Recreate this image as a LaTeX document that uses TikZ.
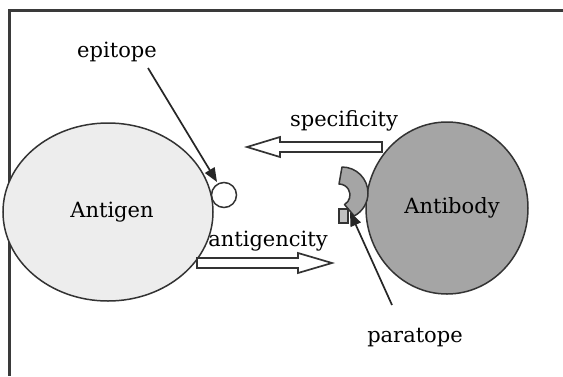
\documentclass[tikz,border=0pt]{standalone}
\usepackage{fontspec}
\setmainfont{DejaVu Serif}
\usetikzlibrary{shapes.geometric,arrows.meta,calc}
\definecolor{antigenfill}{HTML}{EDEDED}
\definecolor{antibodyfill}{HTML}{A5A5A5}
\definecolor{framegray}{HTML}{3A3A3A}
\begin{document}
\begin{tikzpicture}[x=1pt,y=-1pt,
  lbl/.style={font=\fontsize{21}{24}\selectfont, inner sep=0pt},
  body/.style={ellipse, draw=black!80, line width=1.5pt, inner sep=0pt,
               font=\fontsize{21}{24}\selectfont},
  pointer/.style={draw=black!85, line width=1.7pt,
                  -{Triangle[length=14pt,width=11pt]}},
  hollow/.style={draw=black!80, line width=1.7pt, fill=white, line join=miter}]
\useasboundingbox (0,0) rectangle (563,376);
\fill[white] (0,0) rectangle (563,376);

% frame (top and left edges only)
\draw[line width=3pt, framegray] (563,10) -- (9,10) -- (9,376);

% the two bodies
\node[body, fill=antigenfill, minimum width=210pt, minimum height=178pt]
  (antigen) at (108,212) {\hspace*{8pt}Antigen};
\node[body, fill=antibodyfill, minimum width=162pt, minimum height=172pt]
  (antibody) at (447,208) {\hspace*{10pt}Antibody};

% epitope: small bump on the antigen
\node[circle, draw=black!80, line width=1.5pt, fill=white, minimum size=25pt,
      inner sep=0pt] (epitope) at (224,195) {};

% paratope: crescent pocket on the antibody
\coordinate (pco) at (342,193);
\coordinate (pci) at (339,195);
\draw[draw=black!80, line width=1.5pt, fill=antibodyfill, line join=round]
  ($(pco)+(-90:26)$) arc[start angle=-90, end angle=62, radius=26]
  -- ($(pci)+(60:11)$) arc[start angle=60, end angle=-90, radius=11] -- cycle;
\draw[draw=black!80, line width=1.5pt, fill=antibodyfill!70]
  (339,209) rectangle (348,223);

% labels
\node[lbl] (epilabel) at (117,52) {epitope};
\node[lbl] (speclabel) at (344,121) {specificity};
\node[lbl] (antilabel) at (268,241) {antigencity};
\node[lbl] (paralabel) at (415,338) {paratope};

% pointer lines
\coordinate (epistart) at (148,68);
\coordinate (epitip) at (217,182);
\coordinate (parastart) at (392,305);
\coordinate (paratip) at (350,212);
\draw[pointer] (epistart) -- (epitip);
\draw[pointer] (parastart) -- (paratip);

% hollow block arrows
\draw[hollow] (382,142) -- (280,142) -- (280,137) -- (247,147)
  -- (280,157) -- (280,152) -- (382,152) -- cycle;
\draw[hollow] (197,258) -- (298,258) -- (298,253) -- (332,263)
  -- (298,273) -- (298,268) -- (197,268) -- cycle;
\end{tikzpicture}
\end{document}
